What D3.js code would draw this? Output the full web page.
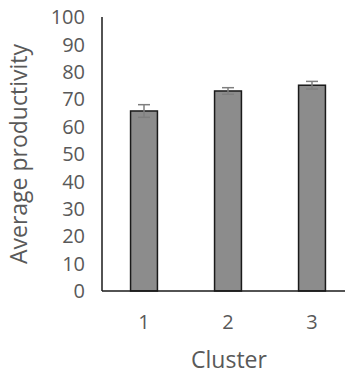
<!DOCTYPE html>
<html><head><meta charset="utf-8">
<script src="https://cdn.jsdelivr.net/npm/d3@7"></script>
<style>body{margin:0;background:#fff}svg{display:block}</style>
</head><body>
<script>
const categories = ["1","2","3"];
const values = [65.7, 73.0, 75.1];
const errors = [2.3, 1.2, 1.4];
const yTicks = [0,10,20,30,40,50,60,70,80,90,100];

const W=345,H=374;
const svg=d3.select("body").append("svg").attr("width",W).attr("height",H);
const x=d3.scaleBand().domain(categories).range([102,354]).paddingInner(0.68).paddingOuter(0.34);
const y=d3.scaleLinear().domain([0,100]).range([291,17]);
const font="'Open Sans', sans-serif", tc="#595959";

// y tick labels
svg.append("g").selectAll("text").data(yTicks).join("text")
  .attr("x",85).attr("y",d=>y(d)).attr("dy","0.36em").attr("text-anchor","end")
  .attr("font-family",font).attr("font-size",20).attr("fill",tc).text(d=>d);

// bars
svg.append("g").selectAll("rect").data(values).join("rect")
  .attr("x",(d,i)=>x(categories[i])).attr("width",x.bandwidth())
  .attr("y",d=>y(d)).attr("height",d=>y(0)-y(d))
  .attr("fill","#8c8c8c").attr("stroke","#1a1a1a").attr("stroke-width",1.5);

// error bars
const eb=svg.append("g").attr("stroke","#7f7f7f").attr("stroke-width",1.5);
values.forEach((v,i)=>{
  const cx=x(categories[i])+x.bandwidth()/2;
  eb.append("line").attr("x1",cx).attr("x2",cx).attr("y1",y(v+errors[i])).attr("y2",y(v-errors[i]));
  eb.append("line").attr("x1",cx-6).attr("x2",cx+6).attr("y1",y(v+errors[i])).attr("y2",y(v+errors[i]));
  eb.append("line").attr("x1",cx-6).attr("x2",cx+6).attr("y1",y(v-errors[i])).attr("y2",y(v-errors[i]));
});

// axes lines
svg.append("line").attr("x1",102).attr("x2",102).attr("y1",y(100)).attr("y2",y(0)).attr("stroke","#1a1a1a").attr("stroke-width",1.5);
svg.append("line").attr("x1",102).attr("x2",W).attr("y1",y(0)).attr("y2",y(0)).attr("stroke","#1a1a1a").attr("stroke-width",1.5);

// x labels
svg.append("g").selectAll("text").data(categories).join("text")
  .attr("x",d=>x(d)+x.bandwidth()/2).attr("y",329).attr("text-anchor","middle")
  .attr("font-family",font).attr("font-size",20).attr("fill",tc).text(d=>d);

svg.append("text").attr("x",229).attr("y",368).attr("text-anchor","middle")
  .attr("font-family",font).attr("font-size",23).attr("fill",tc).text("Cluster");

svg.append("text").attr("transform","translate(27,154) rotate(-90)").attr("text-anchor","middle")
  .attr("font-family",font).attr("font-size",23).attr("fill",tc).text("Average productivity");
</script>
</body></html>
